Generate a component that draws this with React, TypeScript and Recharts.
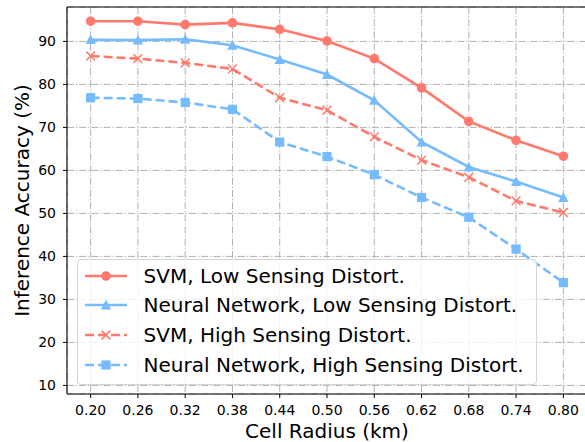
import {
  LineChart,
  Line,
  XAxis,
  YAxis,
  CartesianGrid,
  Legend,
  ReferenceLine,
  Label,
} from 'recharts';

const radius = [0.2, 0.26, 0.32, 0.38, 0.44, 0.5, 0.56, 0.62, 0.68, 0.74, 0.8];
const svmLow = [94.7, 94.7, 93.9, 94.3, 92.8, 90.1, 86.0, 79.2, 71.4, 67.0, 63.3];
const nnLow = [90.4, 90.3, 90.5, 89.1, 85.8, 82.3, 76.3, 66.6, 60.8, 57.4, 53.7];
const svmHigh = [86.6, 86.0, 85.0, 83.6, 76.9, 74.0, 67.8, 62.4, 58.4, 52.9, 50.2];
const nnHigh = [76.9, 76.7, 75.8, 74.2, 66.6, 63.2, 59.0, 53.7, 49.1, 41.7, 33.9];
const yTicks = [10, 20, 30, 40, 50, 60, 70, 80, 90];

const RED = '#ff796c';
const BLUE = '#75bbfd';
const FONT = '"DejaVu Sans", sans-serif';

type Shape = 'circle' | 'triangle' | 'x' | 'square';

type SeriesDef = {
  key: string;
  name: string;
  color: string;
  dashed: boolean;
  shape: Shape;
};

const series: SeriesDef[] = [
  { key: 'svmLow', name: 'SVM, Low Sensing Distort.', color: RED, dashed: false, shape: 'circle' },
  { key: 'nnLow', name: 'Neural Network, Low Sensing Distort.', color: BLUE, dashed: false, shape: 'triangle' },
  { key: 'svmHigh', name: 'SVM, High Sensing Distort.', color: RED, dashed: true, shape: 'x' },
  { key: 'nnHigh', name: 'Neural Network, High Sensing Distort.', color: BLUE, dashed: true, shape: 'square' },
];

const data = radius.map((r, i) => ({
  r,
  svmLow: svmLow[i],
  nnLow: nnLow[i],
  svmHigh: svmHigh[i],
  nnHigh: nnHigh[i],
}));

function Marker({ shape, cx, cy, color }: { shape: Shape; cx: number; cy: number; color: string }) {
  if (shape === 'circle') return <circle cx={cx} cy={cy} r={4.8} fill={color} />;
  if (shape === 'triangle') {
    const r = 5.2;
    return (
      <polygon
        points={`${cx},${cy - r} ${cx - r},${cy + r * 0.85} ${cx + r},${cy + r * 0.85}`}
        fill={color}
      />
    );
  }
  if (shape === 'square') return <rect x={cx - 4.6} y={cy - 4.6} width={9.2} height={9.2} fill={color} />;
  const h = 4.4;
  return (
    <g stroke={color} strokeWidth={1.5}>
      <line x1={cx - h} y1={cy - h} x2={cx + h} y2={cy + h} />
      <line x1={cx - h} y1={cy + h} x2={cx + h} y2={cy - h} />
    </g>
  );
}

function LegendBox() {
  return (
    <div
      style={{
        width: 458,
        height: 123,
        border: '1px solid #d6d6d6',
        borderRadius: 4,
        background: 'rgba(255,255,255,0.8)',
        paddingTop: 1,
        fontFamily: FONT,
        fontSize: 20,
        color: '#000',
      }}
    >
      {series.map((s) => (
        <div key={s.key} style={{ height: 29.6, display: 'flex', alignItems: 'center' }}>
          <svg width={42} height={20} style={{ marginLeft: 7, flex: 'none' }}>
            <line
              x1={0}
              y1={10}
              x2={42}
              y2={10}
              stroke={s.color}
              strokeWidth={2.6}
              strokeDasharray={s.dashed ? '9 4' : undefined}
            />
            <Marker shape={s.shape} cx={21} cy={10} color={s.color} />
          </svg>
          <span style={{ marginLeft: 16.6, whiteSpace: 'nowrap' }}>{s.name}</span>
        </div>
      ))}
    </div>
  );
}

export default function App() {
  return (
    <div
      style={{
        position: 'absolute',
        left: 0,
        top: 0,
        width: 585,
        height: 442,
        overflow: 'hidden',
        background: '#fff',
        fontFamily: FONT,
      }}
    >
      <LineChart width={600} height={442} data={data} margin={{ top: 7, right: 13, bottom: 0, left: 0 }}>
        <CartesianGrid stroke="#b0b0b0" strokeWidth={1} strokeDasharray="7 2 1.2 2" />
        <XAxis
          dataKey="r"
          type="number"
          domain={[0.17, 0.83]}
          ticks={radius}
          interval={0}
          tickFormatter={(v: number) => v.toFixed(2)}
          tick={{ fill: '#000', fontSize: 14 }}
          tickSize={4}
          tickMargin={7}
          tickLine={{ stroke: '#000' }}
          axisLine={{ stroke: '#000', strokeWidth: 1.1 }}
          height={48}
        >
          <Label
            content={({ viewBox }: any) => (
              <text
                x={viewBox.x + viewBox.width / 2}
                y={viewBox.y + 44}
                textAnchor="middle"
                fontSize={20}
                fill="#000"
              >
                Cell Radius (km)
              </text>
            )}
          />
        </XAxis>
        <YAxis
          type="number"
          domain={[8, 98]}
          ticks={yTicks}
          interval={0}
          width={67}
          tick={{ fill: '#000', fontSize: 14 }}
          tickSize={4}
          tickMargin={7}
          tickLine={{ stroke: '#000' }}
          axisLine={{ stroke: '#000', strokeWidth: 1.1 }}
          allowDataOverflow
        >
          <Label
            content={({ viewBox }: any) => {
              const cx = 29;
              const cy = viewBox.y + viewBox.height / 2;
              return (
                <text
                  x={cx}
                  y={cy}
                  transform={`rotate(-90 ${cx} ${cy})`}
                  textAnchor="middle"
                  fontSize={20}
                  fill="#000"
                >
                  Inference Accuracy (%)
                </text>
              );
            }}
          />
        </YAxis>
        <ReferenceLine y={98} stroke="#000" strokeWidth={1.1} />
        <ReferenceLine x={0.83} stroke="#000" strokeWidth={1.1} />
        {series.map((s) => (
          <Line
            key={s.key}
            dataKey={s.key}
            name={s.name}
            type="linear"
            stroke={s.color}
            strokeWidth={2.6}
            strokeDasharray={s.dashed ? '9 4' : undefined}
            isAnimationActive={false}
            dot={(props: any) => (
              <Marker key={`${s.key}-${props.index}`} shape={s.shape} cx={props.cx} cy={props.cy} color={s.color} />
            )}
            activeDot={false}
          />
        ))}
        <Legend
          layout="horizontal"
          verticalAlign="middle"
          align="center"
          content={() => <LegendBox />}
          wrapperStyle={{ position: 'absolute', left: 77, top: 259, width: 'auto' }}
        />
      </LineChart>
    </div>
  );
}
